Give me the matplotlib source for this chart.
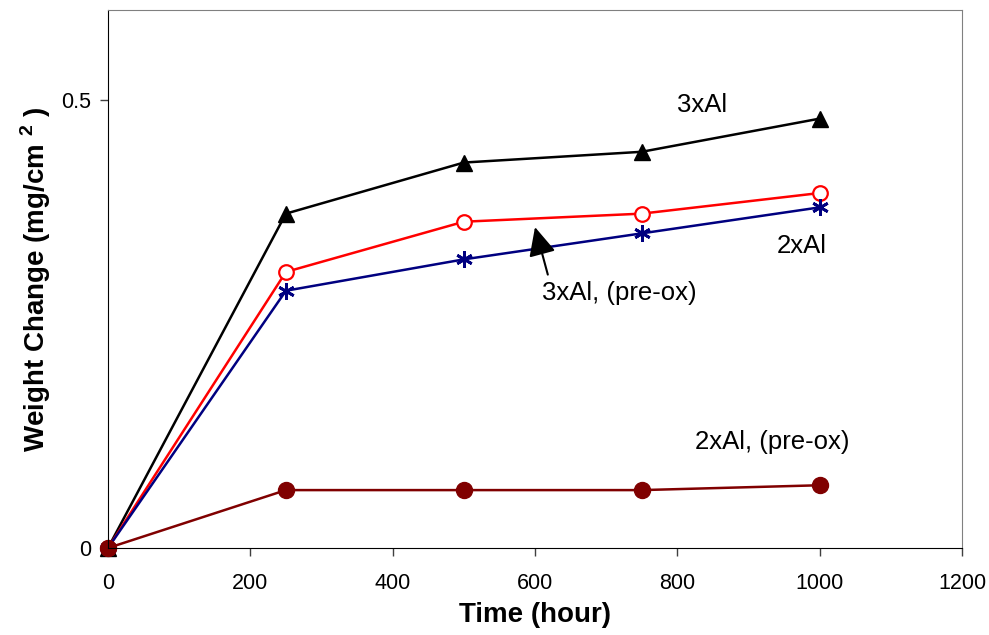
import numpy as np
import matplotlib as mpl
mpl.use('Agg')
import matplotlib.pyplot as plt

plt.rcParams['font.family'] = ['Liberation Sans', 'DejaVu Sans']
plt.rcParams['mathtext.fontset'] = 'custom'
plt.rcParams['mathtext.bf'] = 'Liberation Sans:bold'
plt.rcParams['mathtext.rm'] = 'Liberation Sans'

# time in hours
hours = [0, 250, 500, 750, 1000]
# weight change (mg/cm2)
al3 = [0, 0.373, 0.430, 0.442, 0.479]
al3_preox = [0, 0.308, 0.364, 0.373, 0.396]
al2 = [0, 0.287, 0.322, 0.351, 0.380]
al2_preox = [0, 0.0646, 0.0646, 0.0646, 0.070]

fig = plt.figure(figsize=(9.89, 6.35), dpi=100)
ax = fig.add_axes([0.1092, 0.137, 0.8635, 0.847])

ax.plot(hours, al3, color='black', lw=1.8, marker='^', ms=11, mfc='black', mec='black', clip_on=False)
ax.plot(hours, al3_preox, color='red', lw=1.8, marker='o', ms=10.5, mfc='white', mec='red', mew=1.6, clip_on=False)
ax.plot(hours, al2, color='#000080', lw=1.8, marker=(6, 2, 0), ms=12, mec='#000080', mew=2, clip_on=False)
ax.plot(hours, al2_preox, color='#800000', lw=1.8, marker='o', ms=11.5, mfc='#800000', mec='#800000', clip_on=False)

ax.set_xlim(0, 1200)
ax.set_ylim(0, 0.6)
ax.set_xticks([0, 200, 400, 600, 800, 1000, 1200])
ax.set_yticks([0, 0.5])
ax.set_yticklabels(['0', '0.5'])
ax.tick_params(direction='out', length=6, width=1, labelsize=15.5, color='#404040', pad=6)
ax.tick_params(axis='x', pad=12)

for s in ['top', 'right']:
    ax.spines[s].set_color('#808080')
for s in ['left', 'bottom']:
    ax.spines[s].set_color('black')

ax.set_xlabel('Time (hour)', fontsize=20, fontweight='bold', labelpad=6)
ax.set_ylabel(r'Weight Change (mg/cm $^{\mathbf{2}}$ )', fontsize=20, fontweight='bold', labelpad=6)

ax.text(835, 0.494, '3xAl', fontsize=18.5, ha='center', va='center')
ax.text(975, 0.337, '2xAl', fontsize=18.5, ha='center', va='center')
ax.text(933, 0.118, '2xAl, (pre-ox)', fontsize=18.5, ha='center', va='center')
ax.annotate('', xy=(600, 0.358), xytext=(618, 0.305),
            arrowprops=dict(arrowstyle='-|>,head_length=0.95,head_width=0.45',
                            color='black', lw=1.5, shrinkA=0, shrinkB=0,
                            mutation_scale=18.5))
ax.text(719, 0.285, '3xAl, (pre-ox)', fontsize=18.5, ha='center', va='center')

plt.savefig('out.png')
